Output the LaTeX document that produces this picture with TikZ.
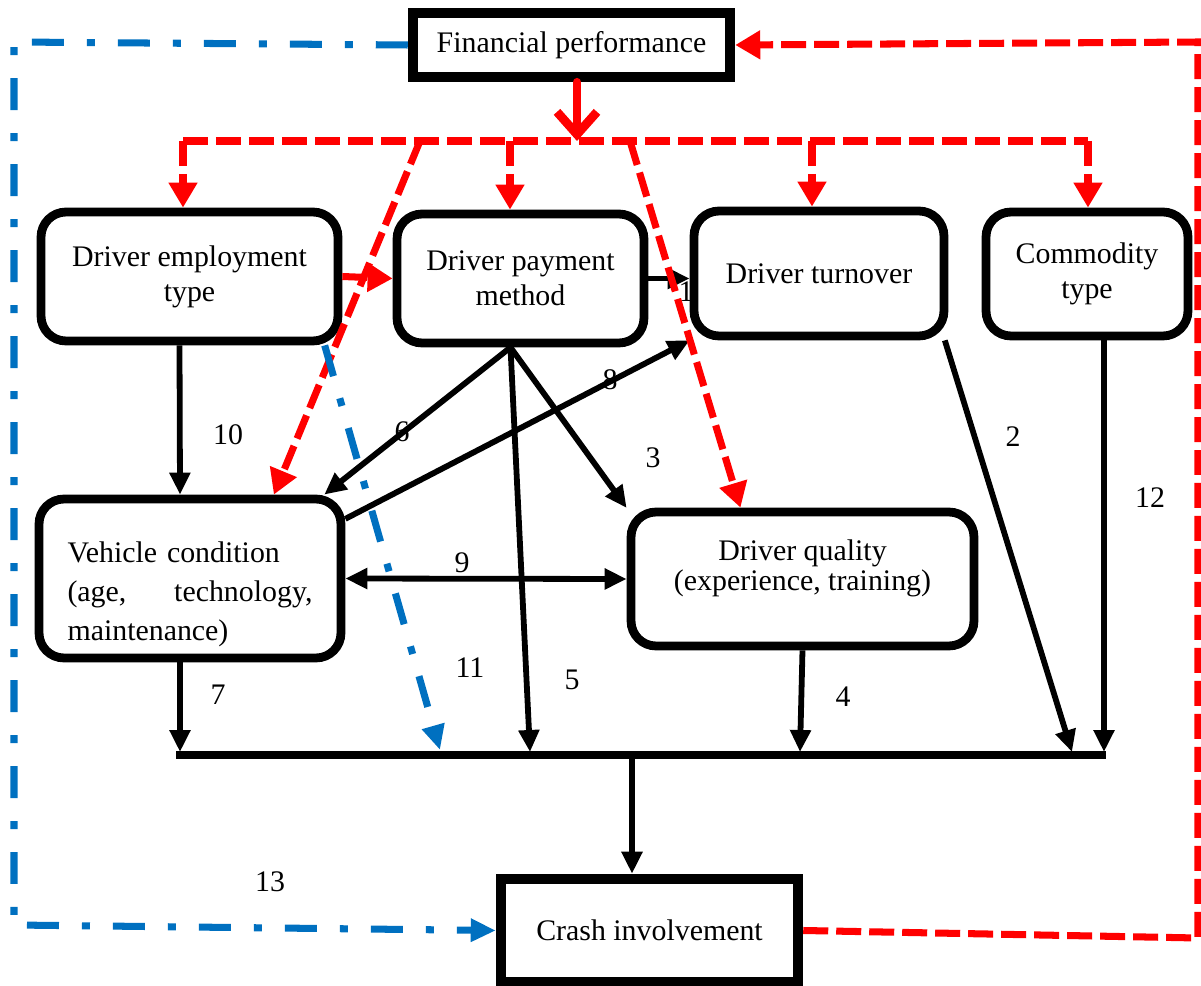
\documentclass[tikz,border=0pt]{standalone}
\usepackage{fontspec}
\setmainfont{Liberation Serif}
\usepackage{xcolor}
\usepackage{tikz}
\usetikzlibrary{arrows.meta, positioning}
\definecolor{FPRed}{RGB}{255,0,0}
\definecolor{CtrlBlue}{RGB}{0,112,192}

\begin{document}
\begin{tikzpicture}[
    x=0.02cm, y=-0.02cm,
    font=\fontsize{17}{20}\selectfont,
    factor/.style={rectangle, draw=black, line width=5pt, fill=white,
                   rounded corners=0.5cm, align=center, inner sep=0pt},
    outcome/.style={rectangle, draw=black, line width=6pt, fill=white,
                    align=center, inner sep=0pt},
    lbl/.style={inner sep=0pt},
    link/.style={-{Triangle[length=0.44cm, width=0.4cm]}, line width=3.3pt},
    fp/.style={-{Triangle[length=0.5cm, width=0.55cm]}, line width=4pt, FPRed,
               dash pattern=on 0.5cm off 0.16cm},
    ctrl/.style={-{Triangle[length=0.5cm, width=0.44cm]}, line width=4pt, CtrlBlue,
                 dash pattern=on 0.64cm off 0.46cm on 0.16cm off 0.46cm}
]
\useasboundingbox (0,0) rectangle (1201,986);

\node[lbl] (n1) at (686,292) {1};

\node[outcome, minimum width=6.34cm, minimum height=1.28cm] (fin)   at (571.5,45)  {Financial performance};
\node[factor,  minimum width=5.94cm, minimum height=2.58cm] (emp)   at (189.5,276.5) {Driver employment\\type};
\node[factor,  minimum width=4.94cm, minimum height=2.58cm] (pay)   at (520.5,278.5) {Driver payment\\method};
\node[factor,  minimum width=5cm,    minimum height=2.5cm]  (turn)  at (819,273.5) {Driver turnover};
\node[factor,  minimum width=4.04cm, minimum height=2.48cm] (comm)  at (1087,274)  {Commodity\\type};
\node[factor,  minimum width=6.04cm, minimum height=3.18cm, text width=4.9cm, align=left,
      text height=1.05cm, font=\fontsize{17}{22}\selectfont] (veh) at (190,578.5)
      {Vehicle condition\\(age,\hfill technology,\\maintenance)};
\node[factor,  minimum width=6.86cm, minimum height=2.68cm, text depth=0.55cm,
      font=\fontsize{17}{17.5}\selectfont] (qual) at (802.5,579) {Driver quality\\(experience, training)};
\node[outcome, minimum width=5.94cm, minimum height=2.06cm] (crash) at (649.5,930.5) {Crash involvement};

\node[lbl] (n10) at (228,435)  {10};
\node[lbl] (n6)  at (402,432)  {6};
\node[lbl] (n8)  at (610,380)  {8};
\node[lbl] (n3)  at (653,458)  {3};
\node[lbl] (n9)  at (462,563)  {9};
\node[lbl] (n7)  at (218,695)  {7};
\node[lbl] (n11) at (470,668)  {11};
\node[lbl] (n5)  at (572,680)  {5};
\node[lbl] (n4)  at (843,697)  {4};
\node[lbl] (n2)  at (1013,437) {2};
\node[lbl] (n12) at (1150,498) {12};
\node[lbl] (n13) at (270,882)  {13};

\coordinate (fpj)    at (577,141);
\coordinate (fpL)    at (183,141);
\coordinate (fpR)    at (1088,141);
\coordinate (fpPay)  at (510,141);
\coordinate (fpTurn) at (812,141);
\coordinate (fpVeh)  at (420,141);
\coordinate (fpQual) at (630,141);
\coordinate (fbTR)   at (1198,42);
\coordinate (fbBR)   at (1198,938);
\coordinate (ctTL)   at (14,42);
\coordinate (ctBL)   at (14,925);
\coordinate (busL)   at (176,755);
\coordinate (busR)   at (1106,755);
\coordinate (busC)   at (632,755);
\coordinate (bus7)   at (180,752);
\coordinate (bus11)  at (440,750);
\coordinate (bus5)   at (530,752);
\coordinate (bus4)   at (800,752);
\coordinate (bus2)   at (1072,752);
\coordinate (bus12)  at (1104,752);

\draw[line width=4.5pt] (busL) -- (busR);
\draw[link] ([xshift=-0.2cm]emp.south) -- ([xshift=-0.2cm]veh.north);
\draw[link] (pay.east) -- (pay.east -| turn.west);
\draw[link] ([xshift=-0.2cm]pay.south) -- (veh.32);
\draw[link] ([xshift=-0.2cm]pay.south) -- (qual.158);
\draw[link] ([xshift=-0.2cm]pay.south) -- (bus5);
\draw[link] (veh.21) -- (turn.south west);
\draw[link, {Triangle[length=0.44cm, width=0.4cm]}-{Triangle[length=0.44cm, width=0.4cm]}] (veh.east) -- (qual.west);
\draw[link] (veh.south -| bus7) -- (bus7);
\draw[link] (qual.south) -- (bus4);
\draw[link] (turn.-28) -- (bus2);
\draw[link] (comm.south -| bus12) -- (bus12);
\draw[link] (busC) -- (busC |- crash.north);

\draw[fp, solid, -{Straight Barb[length=0.45cm, width=0.8cm]}, line width=5pt, line cap=round] (fin.south -| fpj) -- (fpj);
\draw[fp, -] (fpL) -- (fpR);
\draw[fp] (fpL) -- (fpL |- emp.north);
\draw[fp] (fpPay) -- (fpPay |- pay.north);
\draw[fp] (fpTurn) -- (fpTurn |- turn.north);
\draw[fp] (fpR) -- (fpR |- comm.north);
\draw[fp] (fpVeh) -- (veh.45);
\draw[fp] (fpQual) -- (qual.131);
\draw[fp] (emp.east) -- (pay.west);
\draw[fp] (crash.east) -- (fbBR) -- (fbTR) -- (fin.east);

\draw[ctrl] (emp.-27) -- (bus11);
\draw[ctrl] (fin.west) -- (ctTL) -- (ctBL) -- (crash.west);
\end{tikzpicture}
\end{document}
